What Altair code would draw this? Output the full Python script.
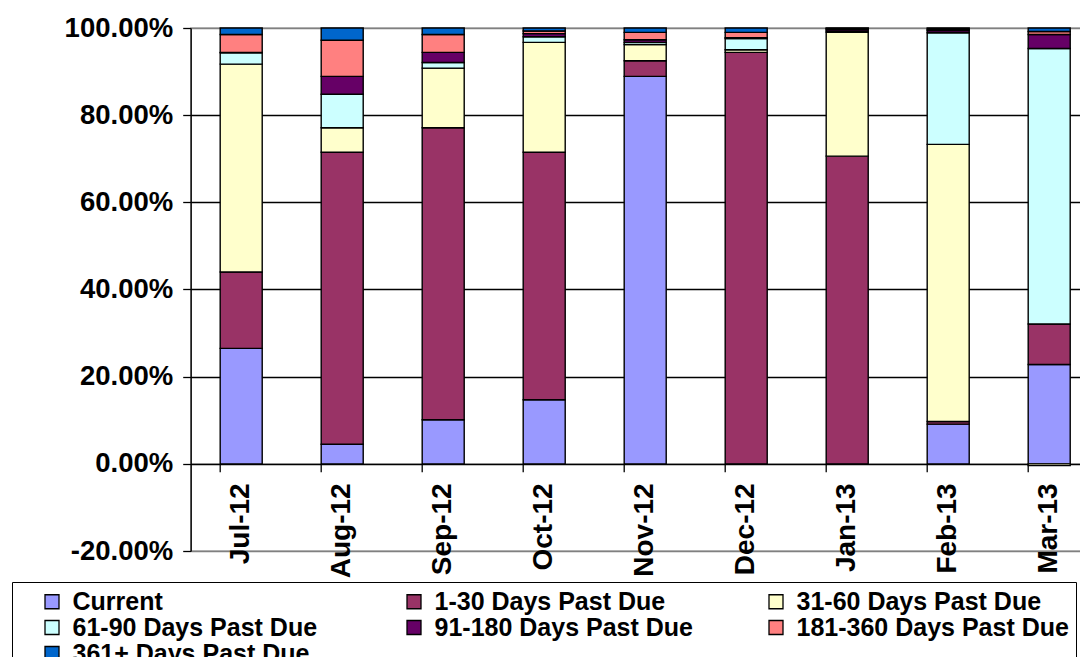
import altair as alt
import pandas as pd

months = ["Jul-12", "Aug-12", "Sep-12", "Oct-12", "Nov-12", "Dec-12", "Jan-13", "Feb-13", "Mar-13"]
series = [
    "Current",
    "1-30 Days Past Due",
    "31-60 Days Past Due",
    "61-90 Days Past Due",
    "91-180 Days Past Due",
    "181-360 Days Past Due",
    "361+ Days Past Due",
]
colors = ["#9999FF", "#993366", "#FFFFCC", "#CCFFFF", "#660066", "#FF8080", "#0066CC"]

# values in percent
current = [26.5, 4.5, 10.1, 14.7, 88.9, 0.0, 0.0, 9.1, 22.8]
d1_30 = [17.5, 67.0, 67.0, 56.8, 3.6, 94.4, 70.6, 0.6, 9.3]
d31_60 = [47.7, 5.6, 13.7, 25.2, 3.7, 0.6, 28.4, 63.6, -0.4]
d61_90 = [2.6, 7.7, 1.3, 1.3, 0.5, 2.6, 0.3, 25.6, 63.2]
d91_180 = [0.1, 4.1, 2.3, 0.7, 0.6, 0.2, 0.4, 0.5, 3.2]
d181_360 = [4.1, 8.3, 4.1, 0.6, 1.7, 1.2, 0.2, 0.3, 0.7]
d361 = [1.5, 2.8, 1.5, 0.7, 1.0, 1.0, 0.1, 0.3, 0.8]

all_vals = [current, d1_30, d31_60, d61_90, d91_180, d181_360, d361]

rows = []
for si, s in enumerate(series):
    for mi, m in enumerate(months):
        rows.append({"month": m, "series": s, "idx": si, "value": all_vals[si][mi] / 100.0})
df = pd.DataFrame(rows)

FONT = "Liberation Sans"
W = 909
H = 523
PAD_L = 182.7
PAD_T = 20
ZERO_OFFSET = -H * 20.0 / 120.0

chart = (
    alt.Chart(df)
    .mark_bar(stroke="black", strokeWidth=1.4)
    .encode(
        x=alt.X(
            "month:N",
            sort=months,
            title=None,
            scale=alt.Scale(paddingInner=0.584, paddingOuter=0.292),
            axis=alt.Axis(
                offset=ZERO_OFFSET,
                bandPosition=0,
                labelAngle=270,
                labelAlign="right",
                labelBaseline="middle",
                labelFont=FONT,
                labelFontSize=28,
                labelFontWeight="bold",
                labelColor="black",
                labelPadding=11,
                labelOverlap=False,
                tickSize=8,
                tickColor="black",
                tickWidth=1.3,
                domainColor="black",
                domainWidth=1.3,
                grid=False,
            ),
        ),
        y=alt.Y(
            "value:Q",
            stack="zero",
            title=None,
            scale=alt.Scale(domain=[-0.2, 1.0], nice=False, zero=False),
            axis=alt.Axis(
                values=[-0.2, 0.0, 0.2, 0.4, 0.6, 0.8, 1.0],
                labelExpr="(datum.value < 0 ? '-' : '') + format(abs(datum.value), '.2%')",
                labelFont=FONT,
                labelFontSize=27.5,
                labelFontWeight="bold",
                labelColor="black",
                labelPadding=10,
                tickSize=8,
                tickColor="black",
                tickWidth=1.3,
                domainColor="black",
                domainWidth=1.3,
                grid=True,
                gridColor=alt.condition(
                    "datum.value > 0.99 || datum.value < -0.19",
                    alt.value("#808080"),
                    alt.value("black"),
                ),
                gridWidth=1.3,
            ),
        ),
        color=alt.Color(
            "series:N",
            sort=series,
            scale=alt.Scale(domain=series, range=colors),
            legend=alt.Legend(
                orient="none",
                legendX=-178.7,
                legendY=554,
                direction="horizontal",
                columns=3,
                gridAlign="all",
                title=" ",
                titleOrient="left",
                titleFontSize=1,
                titlePadding=20.5,
                padding=7,
                strokeColor="black",
                fillColor="white",
                symbolType="square",
                symbolSize=196,
                symbolStrokeColor="black",
                symbolStrokeWidth=1.3,
                symbolOpacity=1,
                labelFont=FONT,
                labelFontSize=25,
                labelFontWeight="bold",
                labelColor="black",
                labelLimit=700,
                labelOffset=8,
                columnPadding=56,
                rowPadding=0,
            ),
        ),
        order=alt.Order("idx:Q", sort="ascending"),
    )
    .properties(
        width=W,
        height=H,
        autosize=alt.AutoSizeParams(type="none"),
        padding={"left": PAD_L, "top": PAD_T, "right": 1072 - PAD_L - W, "bottom": 649 - PAD_T - H},
        background="white",
    )
    .configure_view(stroke="#808080", strokeWidth=1.3)
)

chart.save("out.html", embed_options={"renderer": "svg", "actions": False})
